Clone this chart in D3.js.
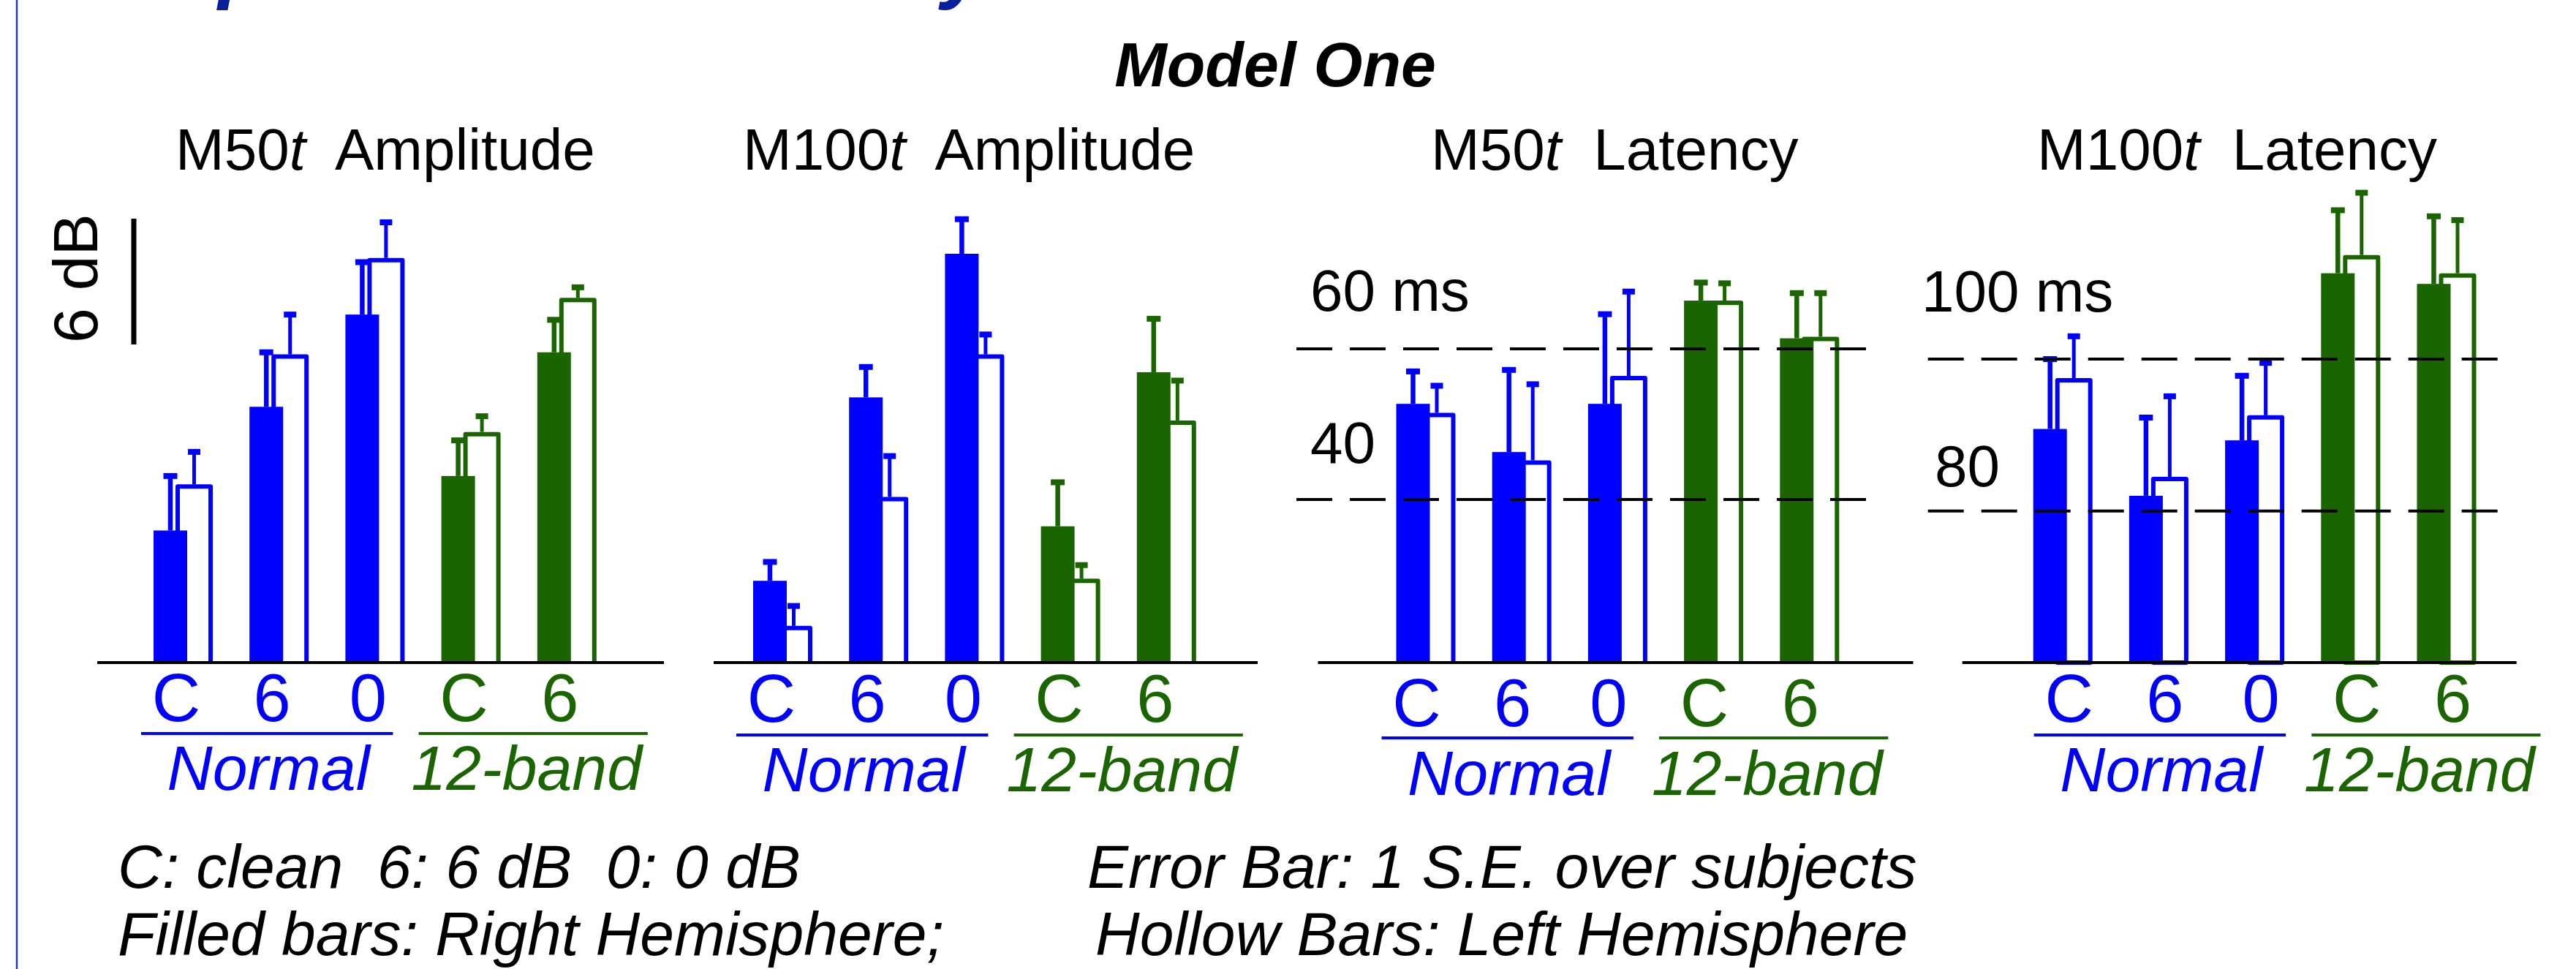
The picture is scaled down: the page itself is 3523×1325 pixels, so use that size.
<!DOCTYPE html>
<html>
<head>
<meta charset="utf-8">
<script src="https://cdn.jsdelivr.net/npm/d3@7"></script>
<style>
  body { margin: 0; background: #fff; }
  svg text { font-family: "Liberation Sans", Arial, sans-serif; white-space: pre; }
</style>
</head>
<body>
<div id="chart"></div>
<script>
// categories
var conditions = ["C", "6", "0", "C", "6"]
var groupOf = ["Normal", "Normal", "Normal", "12-band", "12-band"]

// M50t amplitude, dB (filled = right hemisphere, hollow = left)
var m50AmpRight    = [6.3, 12.2, 16.6, 8.9, 14.8]
var m50AmpRightErr = [2.6, 2.6, 2.5, 1.7, 1.55]
var m50AmpLeft     = [8.5, 14.7, 19.3, 11.0, 17.4]
var m50AmpLeftErr  = [1.55, 1.9, 1.7, 0.75, 0.5]

// M100t amplitude, dB
var m100AmpRight    = [3.9, 12.65, 19.5, 6.5, 13.85]
var m100AmpRightErr = [0.9, 1.45, 1.65, 2.1, 2.55]
var m100AmpLeft     = [1.75, 7.9, 14.7, 4.0, 11.55]
var m100AmpLeftErr  = [0.95, 1.95, 0.95, 0.65, 1.9]

// M50t latency, ms
var m50LatRight    = [52.7, 46.3, 52.7, 66.4, 61.4]
var m50LatRightErr = [4.3, 10.9, 11.9, 2.4, 6.0]
var m50LatLeft     = [51.5, 45.2, 56.4, 66.4, 61.6]
var m50LatLeftErr  = [3.6, 10.1, 11.2, 2.3, 5.8]

// M100t latency, ms
var m100LatRight    = [90.8, 82.0, 89.3, 111.3, 109.9]
var m100LatRightErr = [9.2, 10.3, 8.5, 8.3, 8.9]
var m100LatLeft     = [97.5, 84.5, 92.6, 113.7, 111.3]
var m100LatLeftErr  = [5.5, 10.6, 6.9, 8.2, 7.0]

// reference lines of the latency panels
var m50LatTicks  = [40, 60]
var m50LatTickLabels = ["40", "60 ms"]
var m100LatTicks = [80, 100]
var m100LatTickLabels = ["80", "100 ms"]

var w = 3523
var h = 1325
var baseY = 906
var step = 131.2

var blue = "#0000ff"
var green = "#1b6500"
var colorOf = g => g == "Normal" ? blue : green

var svg = d3.select("#chart")
  .append("svg")
  .attr("width", w)
  .attr("height", h)
  .style("display", "block")

svg.append("rect").attr("width", w).attr("height", h).attr("fill", "#fff")

// frame line on the left
svg.append("line")
  .attr("x1", 23).attr("x2", 23).attr("y1", 0).attr("y2", h)
  .attr("stroke", "#1f3bb3").attr("stroke-width", 2.5)

// page title, cut off at the top edge (only descenders show)
svg.append("text")
  .attr("x", 118).attr("y", -9)
  .attr("font-size", 112).attr("font-weight", "bold").attr("font-style", "italic")
  .attr("fill", "#0a1f9b")
  .text("Amplitude and Latency")

svg.append("text")
  .attr("x", 1744).attr("y", 118)
  .attr("text-anchor", "middle")
  .attr("font-size", 86).attr("font-weight", "bold").attr("font-style", "italic")
  .text("Model One")

// scales
var ampY = d3.scaleLinear().domain([0, 6]).range([baseY, baseY - 172])
var lat50Y = d3.scaleLinear().domain([40, 60]).range([683, 477])
var lat100Y = d3.scaleLinear().domain([80, 100]).range([698.7, 491])

var panels = [
  { name: "M50", what: "Amplitude", tx: 240, y: ampY,
    right: m50AmpRight, rightErr: m50AmpRightErr, left: m50AmpLeft, leftErr: m50AmpLeftErr,
    x0: 210, axis: [-77, 698], labelOff: 31, labelY: 986, lineY: 1003, nameY: 1080 },
  { name: "M100", what: "Amplitude", tx: 1016, y: ampY,
    right: m100AmpRight, rightErr: m100AmpRightErr, left: m100AmpLeft, leftErr: m100AmpLeftErr,
    x0: 1030, axis: [-54, 690], labelOff: 25, labelY: 987, lineY: 1005, nameY: 1082 },
  { name: "M50", what: "Latency", tx: 1957, y: lat50Y,
    right: m50LatRight, rightErr: m50LatRightErr, left: m50LatLeft, leftErr: m50LatLeftErr,
    ticks: m50LatTicks, tickLabels: m50LatTickLabels, tickX: 1792, tickDy: [-50, -52], dash: [-136.5, 642.5],
    x0: 1909.5, axis: [-107, 707], labelOff: 28, labelY: 993, lineY: 1009, nameY: 1087 },
  { name: "M100", what: "Latency", tx: 2786, y: lat100Y,
    right: m100LatRight, rightErr: m100LatRightErr, left: m100LatLeft, leftErr: m100LatLeftErr,
    ticks: m100LatTicks, tickLabels: m100LatTickLabels, tickX: [2646, 2628], tickDy: [-34, -65], dash: [-144, 636],
    x0: 2780.7, axis: [-97, 661], labelOff: 49, labelY: 987, lineY: 1005, nameY: 1082, closed: true }
]

panels.forEach(function (p) {
  var g = svg.append("g")
  var x = d3.scaleBand().domain(d3.range(conditions.length))
    .range([p.x0, p.x0 + step * conditions.length]).padding(0)
  var rows = conditions.map((c, i) => ({
    i: i, cond: c, group: groupOf[i],
    r: p.right[i], re: p.rightErr[i], l: p.left[i], le: p.leftErr[i]
  }))

  // title
  var t = g.append("text").attr("x", p.tx).attr("y", 232).attr("font-size", 80)
  t.append("tspan").text(p.name)
  t.append("tspan").attr("font-style", "italic").text("t")
  t.append("tspan").text("  " + p.what)

  // hollow bars (left hemisphere)
  g.selectAll(".hollow").data(rows).enter()
    .append("path")
    .attr("fill", p.closed ? "#fff" : "none")
    .attr("stroke", d => colorOf(d.group))
    .attr("stroke-width", 6)
    .attr("stroke-linejoin", "round")
    .attr("d", function (d) {
      var a = x(d.i) + 33, b = x(d.i) + 78, top = p.y(d.l) + 3
      return "M" + a + "," + baseY + "V" + top + "H" + b + "V" + baseY + (p.closed ? "Z" : "")
    })

  // filled bars (right hemisphere)
  g.selectAll(".filled").data(rows).enter()
    .append("rect")
    .attr("x", d => x(d.i))
    .attr("width", 46)
    .attr("y", d => p.y(d.r))
    .attr("height", d => baseY - p.y(d.r))
    .attr("fill", d => colorOf(d.group))

  // error bars
  rows.forEach(function (d) {
    var c = colorOf(d.group)
    var cx = x(d.i) + 23
    g.append("line").attr("x1", cx).attr("x2", cx)
      .attr("y1", p.y(d.r)).attr("y2", p.y(d.r + d.re))
      .attr("stroke", c).attr("stroke-width", 6.5)
    g.append("rect").attr("x", cx - 9.5).attr("width", 19)
      .attr("y", p.y(d.r + d.re) - 4).attr("height", 8).attr("fill", c)
    var hx = x(d.i) + 55.5
    g.append("line").attr("x1", hx).attr("x2", hx)
      .attr("y1", p.y(d.l)).attr("y2", p.y(d.l + d.le))
      .attr("stroke", c).attr("stroke-width", 5)
    g.append("rect").attr("x", hx - 8.5).attr("width", 17)
      .attr("y", p.y(d.l + d.le) - 4).attr("height", 8).attr("fill", c)
  })

  // dashed reference lines
  if (p.ticks) {
    p.ticks.forEach(function (v, k) {
      g.append("line")
        .attr("x1", p.x0 + p.dash[0]).attr("x2", p.x0 + p.dash[1])
        .attr("y1", p.y(v)).attr("y2", p.y(v))
        .attr("stroke", "#000").attr("stroke-width", 4)
        .attr("stroke-dasharray", "49 24")
      g.append("text")
        .attr("x", Array.isArray(p.tickX) ? p.tickX[k] : p.tickX)
        .attr("y", p.y(v) + p.tickDy[k])
        .attr("font-size", 80)
        .text(p.tickLabels[k])
    })
  }

  // baseline
  g.append("line")
    .attr("x1", p.x0 + p.axis[0]).attr("x2", p.x0 + p.axis[1])
    .attr("y1", baseY).attr("y2", baseY)
    .attr("stroke", "#000").attr("stroke-width", 4)

  // condition labels
  var lx = i => x(i) + p.labelOff
  g.selectAll(".cond").data(rows).enter()
    .append("text")
    .attr("x", d => lx(d.i))
    .attr("y", p.labelY)
    .attr("text-anchor", "middle")
    .attr("font-size", 92)
    .attr("fill", d => colorOf(d.group))
    .text(d => d.cond)

  // group underlines and names
  var spans = [
    { name: "Normal", a: lx(0) - 48, b: lx(2) + 34, shift: 2 },
    { name: "12-band", a: lx(3) - 62, b: lx(4) + 120, shift: -9 }
  ]
  spans.forEach(function (s) {
    var c = colorOf(s.name)
    g.append("line").attr("x1", s.a).attr("x2", s.b)
      .attr("y1", p.lineY).attr("y2", p.lineY)
      .attr("stroke", c).attr("stroke-width", 4)
    g.append("text")
      .attr("x", (s.a + s.b) / 2 + s.shift).attr("y", p.nameY)
      .attr("text-anchor", "middle")
      .attr("font-size", 86).attr("font-style", "italic")
      .attr("fill", c)
      .text(s.name)
  })
})

// 6 dB scale bar
svg.append("line")
  .attr("x1", 183).attr("x2", 183)
  .attr("y1", 471).attr("y2", 471 - (ampY(0) - ampY(6)))
  .attr("stroke", "#000").attr("stroke-width", 7)
svg.append("text")
  .attr("transform", "translate(133,380.5) rotate(-90)")
  .attr("text-anchor", "middle")
  .attr("font-size", 86)
  .text("6 dB")

// notes
var notes = [
  ["C: clean  6: 6 dB  0: 0 dB", 161, 1214],
  ["Filled bars: Right Hemisphere;", 161, 1306],
  ["Error Bar: 1 S.E. over subjects", 1487, 1214],
  ["Hollow Bars: Left Hemisphere", 1498, 1306]
]
svg.selectAll(".note").data(notes).enter()
  .append("text")
  .attr("x", d => d[1]).attr("y", d => d[2])
  .attr("font-size", 84).attr("font-style", "italic")
  .text(d => d[0])
</script>
</body>
</html>
